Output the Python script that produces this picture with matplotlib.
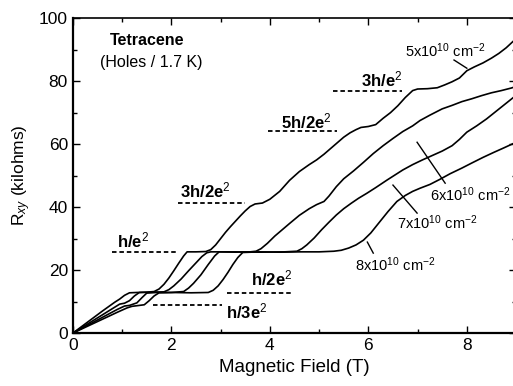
#
# Hall resistance of tetracene (holes, 1.7 K) vs magnetic field
#

import matplotlib
matplotlib.use("Agg")
import matplotlib.pyplot as plt

plt.rcParams["font.family"] = ["Liberation Sans", "DejaVu Sans"]
plt.rcParams["mathtext.fontset"] = "custom"
plt.rcParams["mathtext.rm"] = "Liberation Sans"
plt.rcParams["mathtext.it"] = "Liberation Sans:italic"
plt.rcParams["mathtext.bf"] = "Liberation Sans:bold"

# Rxy traces (field in T, Rxy in kilohms)
bA = [0, 0.3, 0.6, 0.85, 0.95, 1.05, 1.15, 1.3, 1.5, 1.65, 1.75, 1.85, 1.95,
      2.05, 2.15, 2.25, 2.32, 2.5, 2.7, 2.8, 2.9, 3.0, 3.1, 3.2, 3.3, 3.4, 3.5,
      3.6, 3.7, 3.85, 4.0, 4.2, 4.4, 4.6, 4.8, 4.95, 5.1, 5.3, 5.5, 5.63, 5.75,
      5.85, 6.0, 6.15, 6.3, 6.45, 6.6, 6.75, 6.9, 7.0, 7.2, 7.4, 7.55, 7.7,
      7.85, 8.0, 8.15, 8.33, 8.5, 8.65, 8.8, 9.0]
rA = [0, 3.5, 7.0, 9.8, 10.8, 12.0, 12.8, 12.9, 13.0, 13.2, 14.0, 15.5, 17.5,
      19.8, 22.2, 24.5, 25.8, 25.8, 25.9, 26.5, 28.0, 30.0, 32.0, 33.8, 35.5,
      37.2, 38.8, 40.2, 41.0, 41.3, 42.5, 45.0, 48.5, 51.3, 53.5, 55.0, 56.8,
      59.5, 62.2, 63.6, 64.6, 65.3, 65.6, 66.2, 68.2, 70.0, 72.2, 74.8, 77.0,
      77.5, 77.6, 77.9, 78.8, 79.8, 81.0, 83.3, 84.5, 85.8, 87.3, 88.8, 90.6,
      93.5]

bB = [0, 0.3, 0.6, 0.95, 1.05, 1.15, 1.25, 1.35, 1.6, 1.85, 1.95, 2.05, 2.2,
      2.35, 2.5, 2.62, 2.72, 2.8, 3.0, 3.3, 3.6, 3.72, 3.82, 3.95, 4.1, 4.25,
      4.4, 4.6, 4.8, 4.95, 5.1, 5.2, 5.35, 5.5, 5.7, 5.9, 6.1, 6.3, 6.5, 6.7,
      6.9, 7.05, 7.25, 7.5, 7.7, 7.9, 8.1, 8.3, 8.5, 8.7, 8.9, 9.0]
rB = [0, 2.9, 5.8, 9.2, 9.5, 10.3, 11.8, 12.9, 13.0, 13.1, 13.8, 15.0, 17.2,
      19.8, 22.3, 24.3, 25.5, 25.8, 25.8, 25.7, 25.8, 26.0, 26.8, 28.5, 30.8,
      32.8, 34.8, 37.4, 39.5, 40.8, 41.8, 43.5, 46.5, 49.0, 51.5, 54.2, 57.0,
      59.5, 61.8, 64.0, 65.8, 67.5, 69.2, 71.2, 72.3, 73.5, 74.4, 75.4, 76.3,
      77.0, 77.8, 78.3]

bC = [0, 0.3, 0.6, 0.9, 1.05, 1.15, 1.3, 1.4, 1.5, 1.7, 2.0, 2.25, 2.35, 2.45,
      2.6, 2.75, 2.88, 2.97, 3.3, 3.8, 4.3, 4.55, 4.65, 4.75, 4.9, 5.05, 5.2,
      5.35, 5.5, 5.65, 5.8, 5.97, 6.15, 6.38, 6.55, 6.7, 6.9, 7.1, 7.3, 7.5,
      7.7, 7.85, 8.0, 8.2, 8.4, 8.6, 8.8, 9.0]
rC = [0, 2.5, 5.0, 7.5, 8.6, 8.8, 9.6, 11.2, 12.7, 12.9, 12.9, 13.2, 14.3,
      15.8, 18.5, 21.8, 24.5, 25.8, 25.8, 25.7, 25.8, 26.0, 26.8, 28.0, 30.2,
      32.8, 35.2, 37.5, 39.5, 41.2, 42.8, 44.4, 46.2, 48.6, 50.3, 51.8, 53.5,
      55.0, 56.4, 57.8, 59.5, 61.5, 63.8, 65.8, 68.0, 70.5, 73.0, 75.5]

bD = [0, 0.3, 0.6, 0.9, 1.1, 1.2, 1.3, 1.45, 1.55, 1.65, 1.75, 2.0, 2.4, 2.75,
      2.85, 2.95, 3.05, 3.15, 3.25, 3.35, 3.45, 3.8, 4.2, 4.6, 5.0, 5.3, 5.45,
      5.6, 5.75, 5.9, 6.05, 6.24, 6.4, 6.58, 6.75, 6.9, 7.05, 7.25, 7.45, 7.66,
      7.9, 8.1, 8.33, 8.55, 8.75, 9.0]
rD = [0, 2.2, 4.4, 6.6, 8.0, 8.5, 8.7, 9.0, 10.3, 11.8, 12.8, 12.9, 12.8,
      12.9, 13.6, 15.0, 17.0, 19.3, 21.8, 24.0, 25.6, 25.8, 25.7, 25.8, 25.8,
      26.0, 26.3, 27.0, 28.0, 29.5, 31.8, 35.5, 38.6, 41.8, 43.7, 45.0, 46.0,
      47.2, 48.8, 50.6, 52.4, 54.0, 55.8, 57.4, 58.8, 60.6]

# quantized levels: label, y, x-start, x-end, label x, label y
q_names = ["h/e$^2$", "h/2e$^2$", "h/3e$^2$", "3h/2e$^2$", "5h/2e$^2$", "3h/e$^2$"]
q_level = [25.8, 12.8, 8.9, 41.2, 64.1, 76.8]
q_x0 = [0.79, 3.13, 1.63, 2.13, 3.96, 5.28]
q_x1 = [2.13, 4.47, 3.03, 3.50, 5.37, 6.69]
q_tx = [1.22, 4.03, 3.53, 2.68, 4.74, 6.28]
q_ty = [29.5, 17.5, 7.0, 45.4, 67.3, 80.6]

# density labels and their leader lines
d_names = ["5x10$^{10}$ cm$^{-2}$", "6x10$^{10}$ cm$^{-2}$",
           "7x10$^{10}$ cm$^{-2}$", "8x10$^{10}$ cm$^{-2}$"]
d_tx = [6.75, 7.26, 6.59, 5.73]
d_ty = [89.8, 43.8, 34.9, 21.6]
lead_x = [(7.74, 8.0), (6.99, 7.56), (6.5, 6.99), (5.98, 6.1)]
lead_y = [(86.7, 84.1), (60.6, 47.6), (47.0, 38.1), (28.9, 25.4)]

fig = plt.figure(figsize=(5.13, 3.86), dpi=100)
ax = fig.add_axes([0.142, 0.137, 0.864, 0.816])

for b, r in [(bA, rA), (bB, rB), (bC, rC), (bD, rD)]:
    ax.plot(b, r, color="black", lw=1.2)

for i in range(len(q_names)):
    ax.plot([q_x0[i], q_x1[i]], [q_level[i], q_level[i]], color="black",
            lw=1.3, ls=(0, (2.5, 1.6)))
    ax.text(q_tx[i], q_ty[i], q_names[i], fontsize=12, fontweight="bold",
            ha="center", va="center")

for i in range(len(d_names)):
    ax.text(d_tx[i], d_ty[i], d_names[i], fontsize=10.5, ha="left", va="center")
    ax.plot(lead_x[i], lead_y[i], color="black", lw=1.0)

ax.text(0.75, 93, "Tetracene", fontsize=11.5, fontweight="bold", va="center")
ax.text(0.55, 86, "(Holes / 1.7 K)", fontsize=11.5, va="center")

ax.set_xlim(0, 9)
ax.set_ylim(0, 100)
ax.set_xticks([0, 2, 4, 6, 8])
ax.set_xticks([1, 3, 5, 7], minor=True)
ax.set_yticks([0, 20, 40, 60, 80, 100])
ax.set_yticks([10, 30, 50, 70, 90], minor=True)
ax.tick_params(which="both", direction="in", top=True, right=True,
               labelsize=12.5, width=1.0)
ax.tick_params(which="major", length=5)
ax.tick_params(which="minor", length=3)
for s in ax.spines.values():
    s.set_linewidth(1.2)
ax.spines["left"].set_linewidth(1.6)
ax.spines["bottom"].set_linewidth(1.6)

ax.set_xlabel("Magnetic Field (T)", fontsize=13.5)
ax.set_ylabel("R$_{xy}$ (kilohms)", fontsize=12.5)

fig.savefig("out.png", dpi=100)
